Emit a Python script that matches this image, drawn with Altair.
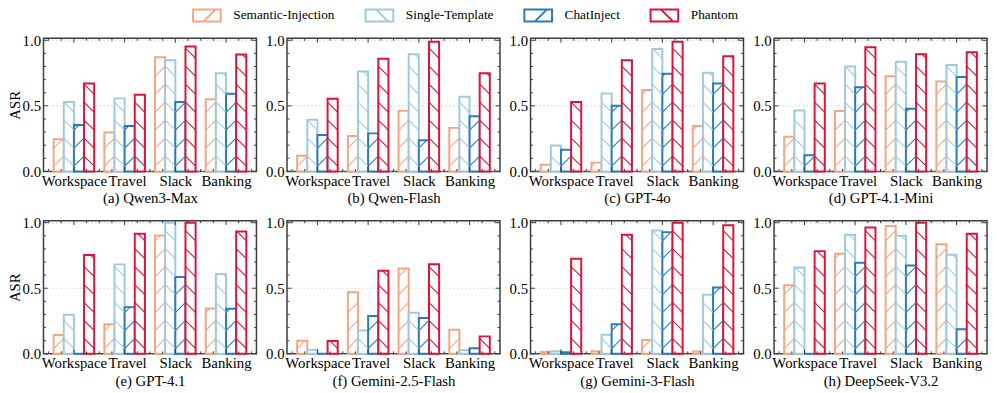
import json
import altair as alt
import pandas as pd

categories = ["Workspace", "Travel", "Slack", "Banking"]
methods = ["Semantic-Injection", "Single-Template", "ChatInject", "Phantom"]
colors = ["#f4a582", "#9ecae1", "#2b7bba", "#dc1437"]
hatch_dir = ["/", "\\", "/", "\\"]

panel_titles = ["(a) Qwen3-Max", "(b) Qwen-Flash", "(c) GPT-4o", "(d) GPT-4.1-Mini",
                "(e) GPT-4.1", "(f) Gemini-2.5-Flash", "(g) Gemini-3-Flash", "(h) DeepSeek-V3.2"]

# rows: methods (in order above); columns: categories
qwen3_max = [[0.245, 0.297, 0.871, 0.550],
             [0.530, 0.557, 0.847, 0.748],
             [0.354, 0.347, 0.530, 0.592],
             [0.670, 0.584, 0.953, 0.891]]
qwen_flash = [[0.119, 0.270, 0.463, 0.332],
              [0.394, 0.762, 0.894, 0.569],
              [0.277, 0.290, 0.238, 0.421],
              [0.554, 0.859, 0.988, 0.748]]
gpt_4o = [[0.050, 0.067, 0.621, 0.347],
          [0.198, 0.594, 0.933, 0.752],
          [0.166, 0.500, 0.745, 0.671],
          [0.530, 0.847, 0.988, 0.879]]
gpt_41_mini = [[0.265, 0.460, 0.725, 0.686],
               [0.465, 0.800, 0.837, 0.812],
               [0.124, 0.641, 0.478, 0.720],
               [0.671, 0.946, 0.894, 0.908]]
gpt_41 = [[0.143, 0.226, 0.902, 0.346],
          [0.298, 0.682, 1.000, 0.609],
          [0.000, 0.356, 0.586, 0.343],
          [0.754, 0.915, 1.000, 0.932]]
gemini_25_flash = [[0.100, 0.470, 0.650, 0.183],
                   [0.030, 0.178, 0.313, 0.028],
                   [0.000, 0.288, 0.273, 0.043],
                   [0.098, 0.633, 0.683, 0.133]]
gemini_3_flash = [[0.015, 0.020, 0.105, 0.018],
                  [0.020, 0.145, 0.940, 0.450],
                  [0.012, 0.225, 0.928, 0.505],
                  [0.725, 0.908, 1.000, 0.980]]
deepseek_v32 = [[0.523, 0.763, 0.975, 0.835],
                [0.658, 0.908, 0.900, 0.755],
                [0.000, 0.695, 0.673, 0.188],
                [0.783, 0.963, 1.000, 0.915]]

panels = [qwen3_max, qwen_flash, gpt_4o, gpt_41_mini,
          gpt_41, gemini_25_flash, gemini_3_flash, deepseek_v32]

FONT = "Liberation Serif"
FRAME = "#3c3c3c"
W, H = 216, 135
XDOM = [-0.6, 3.6]
YDOM = [0, 1.015]
BARW = 0.2
PX_X = W / (XDOM[1] - XDOM[0])
PX_Y = H / (YDOM[1] - YDOM[0])
RISE = BARW * PX_X / PX_Y          # 45-degree hatch rise across one bar
GAP = 0.137                        # vertical hatch spacing
PHASE = 0.04

cscale = alt.Scale(domain=methods, range=colors)
xscale = alt.Scale(domain=XDOM, nice=False, zero=False)
yscale = alt.Scale(domain=YDOM, nice=False, zero=False)

# legend symbols (unit = 5.5 px): 28x12 rectangle with one hatch stroke
rect_path = "M-2.55,-1.09H2.55V1.09H-2.55Z"
fwd = "M-0.6,1.09L1.58,-1.09"
bwd = "M-0.6,-1.09L1.58,1.09"
sym_paths = [rect_path + fwd, rect_path + bwd, rect_path + fwd, rect_path + bwd]

label_expr = json.dumps(categories) + "[datum.value]"

LEG = dict(title=None, orient="none", legendX=159, legendY=-30, direction="horizontal",
           padding=0, symbolSize=121, symbolStrokeWidth=2, symbolFillColor="white",
           labelFont=FONT, labelFontSize=13.5, labelColor="black",
           labelOffset=20, columnPadding=26)


def build_frames(vals):
    bars, hatches = [], []
    for mi, m in enumerate(methods):
        for ci, c in enumerate(categories):
            v = vals[mi][ci]
            xl = ci - 2 * BARW + mi * BARW
            xr = xl + BARW
            bars.append(dict(method=m, category=c, value=v, base=0.0, xl=xl, xr=xr))
            k = -1
            while PHASE + k * GAP < v:
                y0 = PHASE + k * GAP
                if hatch_dir[mi] == "/":
                    lo = max(0.0, -y0 / RISE)
                    hi = min(1.0, (v - y0) / RISE)
                    if hi > lo:
                        hatches.append(dict(method=m, x1=xl + lo * BARW, x2=xl + hi * BARW,
                                            y1=y0 + lo * RISE, y2=y0 + hi * RISE))
                else:
                    lo = max(0.0, (y0 + RISE - v) / RISE)
                    hi = min(1.0, (y0 + RISE) / RISE)
                    if hi > lo:
                        hatches.append(dict(method=m, x1=xl + lo * BARW, x2=xl + hi * BARW,
                                            y1=y0 + RISE - lo * RISE, y2=y0 + RISE - hi * RISE))
                k += 1
    return pd.DataFrame(bars), pd.DataFrame(hatches)


def panel(i):
    bars_df, hatch_df = build_frames(panels[i])
    xaxis = alt.Axis(values=[0, 1, 2, 3], labelExpr=label_expr, grid=False, ticks=False,
                     domain=False, labelOverlap=False, labelFlush=False, labelBound=False,
                     labelOffset={"condition": {"test": "datum.value == 1", "value": 2.5},
                                  "value": 0},
                     labelPadding=2, title=panel_titles[i], titlePadding=3)
    yaxis = alt.Axis(values=[0, 0.5, 1.0], format=".1f", grid=True, gridDash=[2, 2],
                     gridColor="#cfcfcf", gridWidth=0.8, ticks=False, domain=False,
                     labelPadding=3, title="ASR" if i % 4 == 0 else None, titlePadding=0)
    stroke = alt.Stroke("method:N", scale=cscale, legend=alt.Legend(**LEG))

    def X(f):
        return alt.X(f, scale=xscale, axis=xaxis)

    def Y(f):
        return alt.Y(f, scale=yscale, axis=yaxis)

    rect = alt.Chart(bars_df).mark_rect(fill="white", strokeWidth=2).encode(
        x=X("xl:Q"), x2="xr:Q", y=Y("value:Q"), y2="base:Q", stroke=stroke)
    hatch = alt.Chart(hatch_df).mark_rule(strokeWidth=1.1, opacity=1).encode(
        x=X("x1:Q"), x2="x2:Q", y=Y("y1:Q"), y2="y2:Q", stroke=stroke)
    layers = [rect, hatch]

    # inward frame ticks
    ymaj = pd.DataFrame({"t": [0.0, 0.5, 1.0]})
    ymin = pd.DataFrame({"t": [k / 10 for k in range(11) if k % 5]})
    xmaj = pd.DataFrame({"t": [0, 1, 2, 3]})
    xmin = pd.DataFrame({"t": [k / 4 - 0.5 for k in range(17) if k % 4 != 2]})
    for df, ln in [(ymaj, 4.5), (ymin, 2.5)]:
        for a, b in [(0, ln), (W, W - ln)]:
            layers.append(alt.Chart(df).mark_rule(stroke=FRAME, strokeWidth=1).encode(
                y=Y("t:Q"), x=alt.value(a), x2=alt.value(b)))
    for df, ln in [(xmaj, 4.5), (xmin, 2.5)]:
        for a, b in [(0, ln), (H, H - ln)]:
            layers.append(alt.Chart(df).mark_rule(stroke=FRAME, strokeWidth=1).encode(
                x=X("t:Q"), y=alt.value(a), y2=alt.value(b)))

    if i == 0:
        pts = pd.DataFrame({"method": methods, "px": [-5.0] * 4, "py": [-5.0] * 4})
        layers.append(alt.Chart(pts).mark_point(filled=False, strokeWidth=2, size=121,
                                                clip=True).encode(
            x=X("px:Q"), y=Y("py:Q"), stroke=stroke,
            shape=alt.Shape("method:N", scale=alt.Scale(domain=methods, range=sym_paths),
                            legend=alt.Legend(**LEG))))
    return alt.layer(*layers).properties(width=W, height=H)


row1 = alt.hconcat(*[panel(i) for i in range(4)], spacing=6)
row2 = alt.hconcat(*[panel(i) for i in range(4, 8)], spacing=6)

chart = alt.vconcat(row1, row2, spacing=8).properties(
    padding={"left": -2, "top": -2, "right": 0, "bottom": 0}
).configure(font=FONT).configure_view(
    stroke=FRAME, strokeWidth=1.5
).configure_axis(
    labelFont=FONT, titleFont=FONT, labelFontSize=15, titleFontSize=15,
    labelColor="black", titleColor="black", titleFontWeight="normal"
).configure_legend(
    labelFont=FONT, labelFontSize=13.5, labelColor="black"
)

chart.save("out.html", embed_options={"renderer": "svg", "actions": False})
